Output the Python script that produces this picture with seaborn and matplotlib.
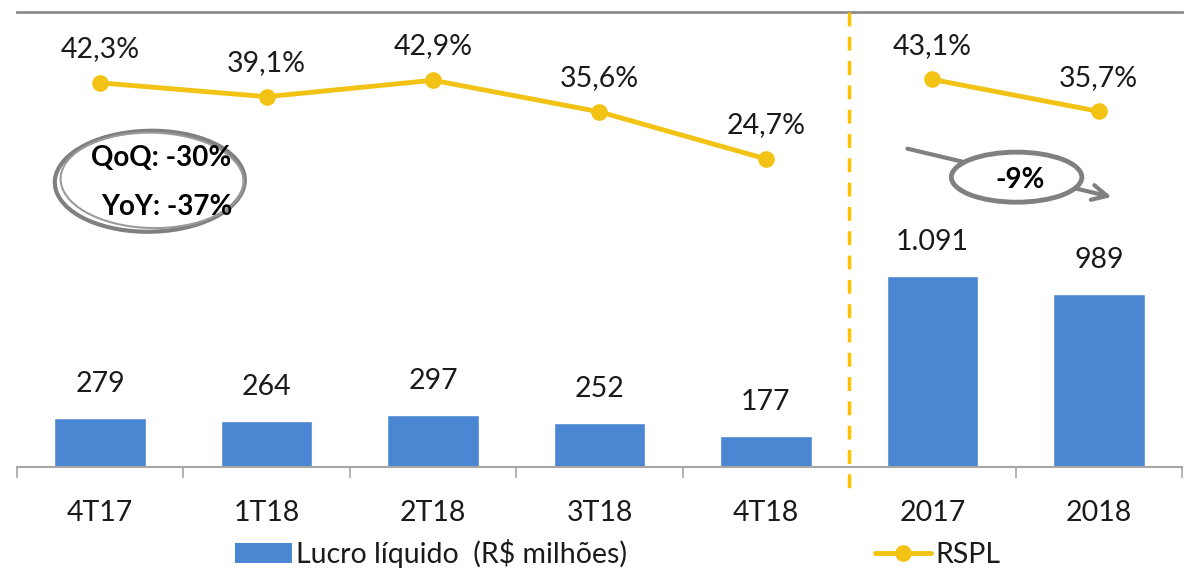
import numpy as np
import pandas as pd
import matplotlib
matplotlib.use('Agg')
import matplotlib.pyplot as plt
import seaborn as sns
from matplotlib.patches import Ellipse, Patch
from matplotlib.lines import Line2D

# dados
categorias = ['4T17', '1T18', '2T18', '3T18', '4T18', '2017', '2018']
lucro = [279, 264, 297, 252, 177, 1091, 989]
lucro_txt = ['279', '264', '297', '252', '177', '1.091', '989']
rspl = [42.3, 39.1, 42.9, 35.6, 24.7, 43.1, 35.7]
grupo = ['tri', 'tri', 'tri', 'tri', 'tri', 'ano', 'ano']

azul = '#4A86D1'
amarelo = '#F2C314'
cinza = '#808080'

sns.set_theme(style='white')
plt.rcParams['font.family'] = ['Lato', 'DejaVu Sans']

df = pd.DataFrame({'cat': categorias, 'lucro': lucro, 'rspl': rspl, 'grupo': grupo})
df['pos'] = np.arange(len(df))

fig = plt.figure(figsize=(12.04, 5.77), dpi=100)
ax = fig.add_axes([17 / 1204, 110 / 577, 1165 / 1204, 455 / 577])

sns.barplot(data=df, x='cat', y='lucro', color=azul, width=0.55, saturation=1, ax=ax)
ax.set_ylim(0, 2600)
ax.set_xlim(-0.5, len(df) - 0.5)
ax.set_xlabel('')
ax.set_ylabel('')
ax.set_yticks([])
for i, (v, t) in enumerate(zip(df['lucro'], lucro_txt)):
    ax.annotate(t, (i, v), xytext=(0, 15), textcoords='offset points',
                ha='center', va='bottom', fontsize=20.5, color='#1a1a1a')

# eixos / bordas
for s in ['left', 'right']:
    ax.spines[s].set_visible(False)
ax.spines['top'].set_color('#8c8c8c')
ax.spines['top'].set_linewidth(2)
ax.spines['bottom'].set_color('#a6a6a6')
ax.spines['bottom'].set_linewidth(1.5)
ax.tick_params(axis='x', which='major', length=0, pad=24, labelsize=20.5, labelcolor='#1a1a1a')
limites = [b for b in np.arange(-0.5, len(df), 1.0) if abs(b - 4.5) > 0.01]
ax.set_xticks(limites, minor=True)
ax.tick_params(axis='x', which='minor', length=8, width=1.2, color='#a6a6a6', bottom=True)

# linha RSPL no eixo secundario
ax2 = ax.twinx()
for g, sub in df.groupby('grupo', sort=False):
    sns.lineplot(data=sub, x='pos', y='rspl', color=amarelo, lw=3.5, marker='o',
                 markersize=12, markeredgewidth=0, ax=ax2, legend=False)
for i, v in enumerate(df['rspl']):
    ax2.annotate(f'{v:.1f}%'.replace('.', ','), (i, v), xytext=(0, 15),
                 textcoords='offset points', ha='center', va='bottom',
                 fontsize=20.5, color='#1a1a1a')
ax2.set_ylim(-46.6, 58.7)
ax2.set_yticks([])
ax2.set_ylabel('')
ax2.set_xlabel('')
for s in ['left', 'right', 'top', 'bottom']:
    ax2.spines[s].set_visible(False)
ax2.set_xlim(-0.5, len(df) - 0.5)

# separador tracejado
ax.plot([4.5, 4.5], [1.0, -0.062], transform=ax.get_xaxis_transform(),
        color='#FFC000', lw=2.5, ls=(0, (4, 3)), clip_on=False, zorder=5)

# anotacoes
ta = ax2.transAxes
ax2.add_patch(Ellipse((0.114, 0.628), 0.163, 0.222, angle=-2, transform=ta,
                      fc='white', ec=cinza, lw=3, zorder=6))
ax2.add_patch(Ellipse((0.116, 0.630), 0.157, 0.21, angle=3, transform=ta,
                      fc='none', ec='#9a9a9a', lw=1.5, zorder=6))
ax2.text(0.124, 0.679, 'QoQ: -30%', transform=ta, ha='center', va='center',
         fontsize=20, fontweight='bold', color='black', zorder=7)
ax2.text(0.129, 0.571, 'YoY: -37%', transform=ta, ha='center', va='center',
         fontsize=20, fontweight='bold', color='black', zorder=7)

ax2.annotate('', xy=(0.942, 0.592), xytext=(0.762, 0.701), xycoords=ta, textcoords=ta,
             arrowprops=dict(arrowstyle='->,head_length=0.9,head_width=0.45',
                             color=cinza, lw=3), zorder=6)
ax2.add_patch(Ellipse((0.858, 0.637), 0.112, 0.11, transform=ta,
                      fc='white', ec=cinza, lw=3.5, zorder=7))
ax2.text(0.861, 0.631, '-9%', transform=ta, ha='center', va='center',
         fontsize=20, fontweight='bold', color='black', zorder=8)

# legenda
handles = [Patch(facecolor=azul, edgecolor='none'),
           Line2D([0], [0], color=amarelo, lw=3.5, marker='o', markersize=12, markeredgewidth=0)]
fig.legend(handles, ['Lucro líquido  (R$ milhões)', 'RSPL'], loc='center',
           bbox_to_anchor=(0.513, 0.04), ncol=2, frameon=False, fontsize=20.5,
           handlelength=2.0, handletextpad=0.15, columnspacing=8.7, labelcolor='#1a1a1a')

fig.savefig('out.png', dpi=100)
